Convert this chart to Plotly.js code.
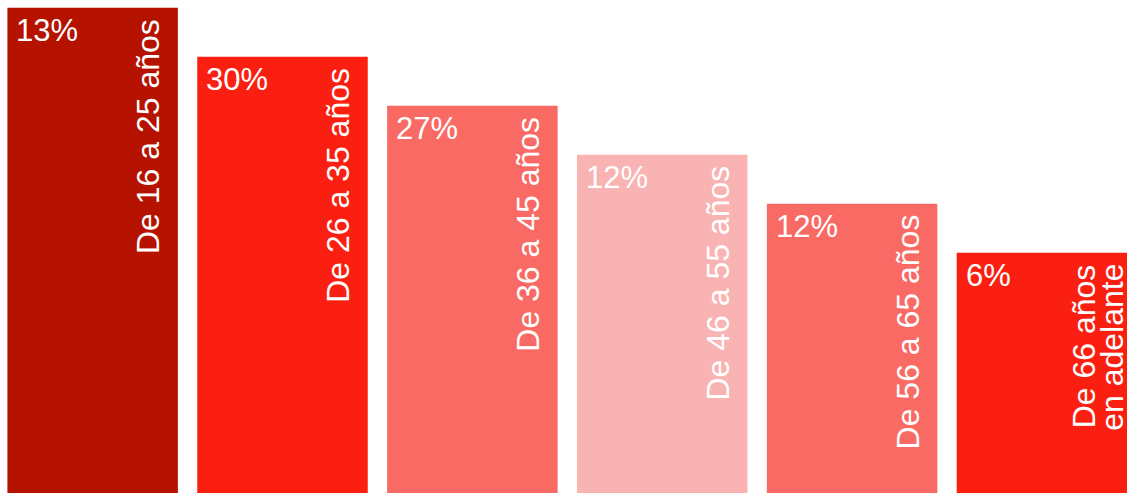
<!DOCTYPE html>
<html>
<head>
<meta charset="utf-8">
<script src="https://cdn.plot.ly/plotly-3.0.1.min.js"></script>
<style>html,body{margin:0;padding:0;background:#fff;}#chart{width:1127px;height:493px;}</style>
</head>
<body>
<div id="chart"></div>
<script>
// Age groups (categories)
const categorias = ['De 16 a 25 años', 'De 26 a 35 años', 'De 36 a 45 años', 'De 46 a 55 años', 'De 56 a 65 años', 'De 66 años en adelante'];
// Label text as drawn inside each bar (lines separated by <br>)
const etiquetas = ['De 16 a 25 años', 'De 26 a 35 años', 'De 36 a 45 años', 'De 46 a 55 años', 'De 56 a 65 años', 'De 66 años<br>en adelante'];
// Share of each group (%)
const porcentajes = [13, 30, 27, 12, 12, 6];
// Staircase bar heights (decorative, descending steps)
const alturas = [99, 89, 79, 69, 59, 49];
// Bar colours
const colores = ['#B51200', '#FA1F10', '#FA6A64', '#FAB3B3', '#FA6A64', '#FA1F10'];

const anchoBarra = 0.898;
const fuente = 'Liberation Sans, Arial, sans-serif';

const trace = {
  type: 'bar',
  x: categorias.map((c, i) => i),
  y: alturas,
  width: anchoBarra,
  marker: {color: colores, line: {width: 0}},
  hoverinfo: 'skip'
};

const annotations = [];
categorias.forEach((c, i) => {
  annotations.push({
    x: i - anchoBarra / 2, y: alturas[i], xref: 'x', yref: 'y',
    text: porcentajes[i] + '%', showarrow: false,
    xanchor: 'left', yanchor: 'top', xshift: 7, yshift: -3,
    font: {family: fuente, size: 31, color: '#ffffff'}
  });
  const lineas = etiquetas[i].split('<br>');
  const n = lineas.length;
  lineas.forEach((txt, k) => {
    annotations.push({
      x: i, y: alturas[i], xref: 'x', yref: 'y',
      text: txt, showarrow: false, textangle: -90,
      xanchor: 'center', yanchor: 'top',
      xshift: 56 + (k - (n - 1) / 2) * 29, yshift: -9,
      font: {family: fuente, size: 32, color: '#ffffff'}
    });
  });
});

const layout = {
  width: 1127, height: 493,
  margin: {l: 0, r: 0, t: 0, b: 0, pad: 0},
  paper_bgcolor: '#ffffff', plot_bgcolor: '#ffffff',
  showlegend: false,
  xaxis: {range: [-0.488, 5.448], showgrid: false, zeroline: false, showticklabels: false, ticks: '', showline: false, fixedrange: true},
  yaxis: {range: [0, 100.6], showgrid: false, zeroline: false, showticklabels: false, ticks: '', showline: false, fixedrange: true},
  annotations: annotations
};

Plotly.newPlot('chart', [trace], layout, {displayModeBar: false, staticPlot: true});
</script>
</body>
</html>
